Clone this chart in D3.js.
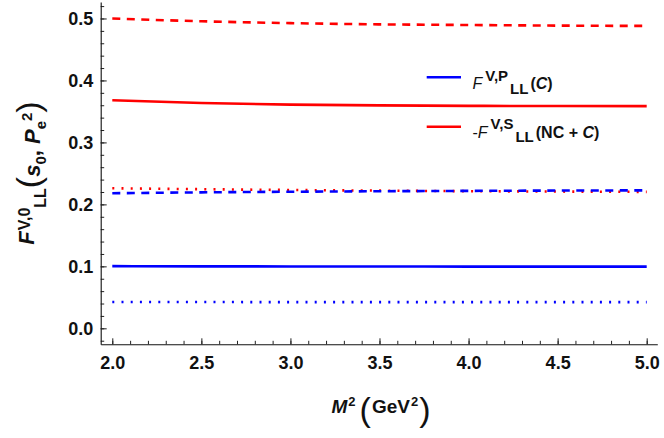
<!DOCTYPE html>
<html><head><meta charset="utf-8">
<script src="https://cdn.jsdelivr.net/npm/d3@7"></script>
<style>
body{margin:0;background:#fff}
svg{display:block}
text{font-family:"Liberation Sans",Arial,sans-serif;fill:#111}
</style>
</head><body>
<svg id="chart" width="664" height="438"></svg>
<script>
// ---- data ----
const m2 = [2.0, 2.5, 3.0, 3.5, 4.0, 4.5, 5.0];
const redDashed  = [0.500, 0.4955, 0.4925, 0.4905, 0.4895, 0.4885, 0.488];
const redSolid   = [0.368, 0.3635, 0.361, 0.3597, 0.359, 0.3587, 0.3585];
const redDotted  = [0.226, 0.2245, 0.2232, 0.2222, 0.2213, 0.2207, 0.2202];
const blueDashed = [0.2180, 0.2194, 0.2204, 0.2212, 0.2218, 0.2223, 0.2226];
const blueSolid  = [0.1003, 0.1000, 0.0998, 0.0997, 0.0996, 0.0995, 0.0995];
const blueDotted = [0.0425, 0.0424, 0.0423, 0.0423, 0.0422, 0.0422, 0.0422];
const xTicks = [2.0, 2.5, 3.0, 3.5, 4.0, 4.5, 5.0];
const yTicks = [0.0, 0.1, 0.2, 0.3, 0.4, 0.5];
const xMinor = d3.range(20, 51).map(d => d / 10);
const yMinor = d3.range(-1, 27).map(d => d / 50);

const RED = "#ff0000", BLUE = "#0000ff";
const series = [
  {vals: blueDotted, color: BLUE, dash: "2,7.2"},
  {vals: blueSolid,  color: BLUE, dash: null},
  {vals: redSolid,   color: RED,  dash: null},
  {vals: redDashed,  color: RED,  dash: "8,6.5"},
  {vals: redDotted,  color: RED,  dash: "2,7.2"},
  {vals: blueDashed, color: BLUE, dash: "8,6.5"}
];

const svg = d3.select("#chart");
const x = d3.scaleLinear().domain([1.9349, 5.0595]).range([100.7, 657.3]);
const y = d3.scaleLinear().domain([-0.0258, 0.5266]).range([344.3, 2]);

// axes
const gx = svg.append("g").attr("transform", "translate(0,344.3)");
gx.call(d3.axisBottom(x).tickValues(xMinor).tickSizeInner(-3.5).tickSizeOuter(0).tickFormat(""));
gx.append("g").call(d3.axisBottom(x).tickValues(xTicks).tickSizeInner(-6).tickSizeOuter(0)
  .tickPadding(12).tickFormat(d3.format(".1f")));
gx.select("g .domain").remove();

const gy = svg.append("g").attr("transform", "translate(100.7,0)");
gy.call(d3.axisLeft(y).tickValues(yMinor).tickSizeInner(-3.5).tickSizeOuter(0).tickFormat(""));
gy.append("g").call(d3.axisLeft(y).tickValues(yTicks).tickSizeInner(-6).tickSizeOuter(0)
  .tickPadding(7.5).tickFormat(d3.format(".1f")));
gy.select("g .domain").remove();

svg.selectAll(".tick line").attr("stroke", "#222").attr("stroke-width", 1);
svg.selectAll(".domain").attr("stroke", "#111").attr("stroke-width", 1.1);
svg.selectAll(".tick text").attr("font-size", 18).attr("font-weight", "bold")
  .attr("fill", "#111").style("font-family", '"Liberation Sans",Arial,sans-serif');

// lines
const line = d3.line().x((d, i) => x(m2[i])).y(d => y(d)).curve(d3.curveMonotoneX);
svg.append("g").selectAll("path").data(series).join("path")
  .attr("d", d => line(d.vals))
  .attr("fill", "none")
  .attr("stroke", d => d.color)
  .attr("stroke-width", 2.6)
  .attr("stroke-dasharray", d => d.dash);

// x-axis label
const xl = svg.append("text").attr("x", 381).attr("y", 413).attr("text-anchor", "middle")
  .attr("font-weight", "bold").attr("font-size", 19);
xl.append("tspan").attr("font-style", "italic").text("M");
xl.append("tspan").attr("font-size", 13).attr("dy", -7).attr("dx", 1).text("2");
xl.append("tspan").attr("font-size", 34).attr("font-weight", "normal").attr("dy", 15).attr("dx", 4).text("(");
xl.append("tspan").attr("dy", -8).attr("dx", 1).text("GeV");
xl.append("tspan").attr("font-size", 13).attr("dy", -7).attr("dx", 1).text("2");
xl.append("tspan").attr("font-size", 34).attr("font-weight", "normal").attr("dy", 15).attr("dx", 1).text(")");

// y-axis label
const yl = svg.append("text").attr("transform", "translate(33.5,173) rotate(-90)")
  .attr("text-anchor", "middle").attr("font-weight", "bold").attr("font-size", 22);
yl.append("tspan").attr("font-style", "italic").text("F");
yl.append("tspan").attr("font-size", 16).attr("dy", -4).attr("dx", 1).text("V,0");
yl.append("tspan").attr("font-size", 16).attr("dy", 16).text("LL");
yl.append("tspan").attr("font-size", 34).attr("font-weight", "normal").attr("dy", -6).text("(");
yl.append("tspan").attr("font-style", "italic").attr("dy", 0).text("s");
yl.append("tspan").attr("font-size", 15).attr("dy", 6).text("0");
yl.append("tspan").attr("dy", -6).text(", ");
yl.append("tspan").attr("font-style", "italic").text("P");
yl.append("tspan").attr("font-size", 15).attr("dy", 6).text("e");
yl.append("tspan").attr("font-size", 15).attr("dy", -14).text("2");
yl.append("tspan").attr("font-size", 34).attr("font-weight", "normal").attr("dy", 8).text(")");

// legend
const legend = [
  {color: BLUE, ly: 77.3, base: 89, pre: "", sup: "V,P", tail: [["(", false], ["C", true], [")", false]]},
  {color: RED, ly: 126.7, base: 137.5, pre: "-", sup: "V,S", tail: [["(NC + ", false], ["C", true], [")", false]]}
];
legend.forEach(L => {
  svg.append("line").attr("x1", 426.7).attr("x2", 461).attr("y1", L.ly).attr("y2", L.ly)
    .attr("stroke", L.color).attr("stroke-width", 2.6);
  const t = svg.append("text").attr("x", 472.5).attr("y", L.base).attr("font-size", 16).attr("font-weight", "bold");
  if (L.pre) t.append("tspan").attr("font-weight", "normal").text(L.pre);
  t.append("tspan").attr("font-style", "italic").attr("font-weight", "normal").text("F");
  t.append("tspan").attr("font-size", 15).attr("dy", -8.5).attr("dx", 3).text(L.sup);
  t.append("tspan").attr("font-size", 15).attr("dy", 13).attr("dx", 2).text("LL");
  let first = true;
  L.tail.forEach(([s, it]) => {
    const ts = t.append("tspan").text(s);
    if (first) { ts.attr("dy", -4.5).attr("dx", 2); first = false; }
    if (it) ts.attr("font-style", "italic");
  });
});
</script>
</body></html>
